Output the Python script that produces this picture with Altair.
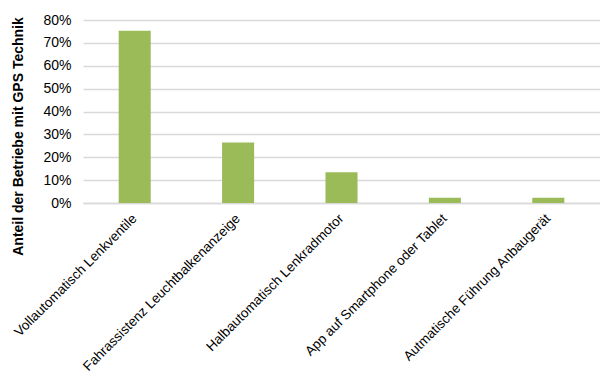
import altair as alt
import pandas as pd

categories = [
    "Vollautomatisch Lenkventile",
    "Fahrassistenz Leuchtbalkenanzeige",
    "Halbautomatisch Lenkradmotor",
    "App auf Smartphone oder Tablet",
    "Autmatische Führung Anbaugerät",
]
values = [0.753, 0.265, 0.134, 0.023, 0.023]

df = pd.DataFrame({"cat": categories, "val": values})

FONT = "Liberation Sans"

chart = alt.Chart(df).mark_bar(color="#9BBB59").encode(
    x=alt.X(
        "cat:N",
        sort=categories,
        title=None,
        scale=alt.Scale(paddingInner=0.69, paddingOuter=0.345),
        axis=alt.Axis(
            labelAngle=-45,
            labelAlign="right",
            labelBaseline="middle",
            labelFont=FONT,
            labelFontSize=13.5,
            labelColor="#000000",
            labelPadding=13,
            ticks=False,
            domain=True,
            domainColor="#D9D9D9",
            domainWidth=1.5,
            labelLimit=400,
        ),
    ),
    y=alt.Y(
        "val:Q",
        title="Anteil der Betriebe mit GPS Technik",
        scale=alt.Scale(domain=[0, 0.8], nice=False),
        axis=alt.Axis(
            format=".0%",
            values=[0, 0.1, 0.2, 0.3, 0.4, 0.5, 0.6, 0.7, 0.8],
            labelFont=FONT,
            labelFontSize=14,
            labelColor="#000000",
            labelPadding=12,
            ticks=False,
            domain=False,
            gridColor="#D9D9D9",
            gridWidth=1.5,
            titleFont=FONT,
            titleFontSize=14,
            titleFontWeight="bold",
            titleColor="#000000",
            titleAngle=-90,
            titleX=-65,
            titleY=116,
            titleAlign="center",
            titleBaseline="middle",
        ),
    ),
).properties(
    width=517,
    height=183,
    autosize="none",
    padding={"left": 83, "top": 20, "right": 0, "bottom": 173},
).configure_view(stroke=None)

chart.save("out.html", embed_options={"renderer": "svg", "actions": False})
